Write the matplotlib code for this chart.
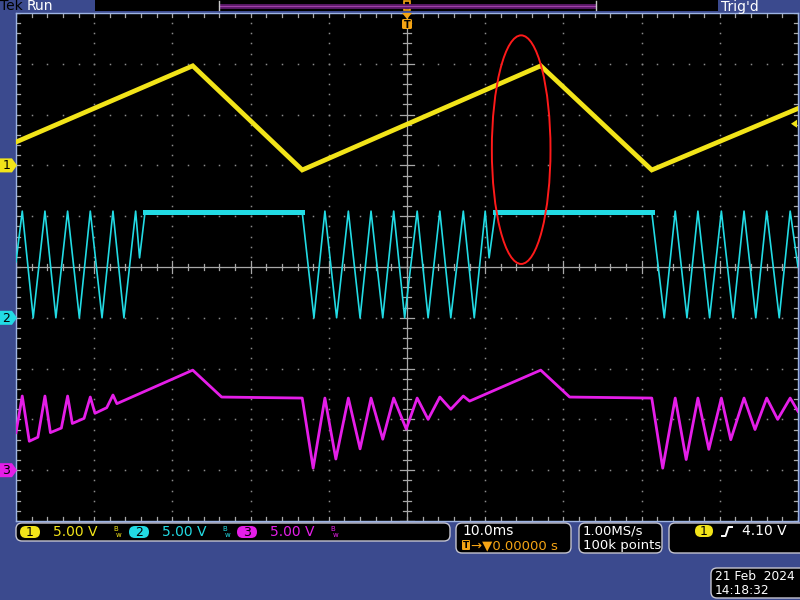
import matplotlib
matplotlib.use("Agg")
import matplotlib.pyplot as plt
import numpy as np
from matplotlib.patches import Ellipse, FancyBboxPatch, Polygon, Rectangle

# scope settings
time_per_div = 10.0          # ms/div
volts_per_div = 5.0          # V/div, all channels
ch_offsets = [2.0, -1.0, -4.0]   # ground markers, in divisions
trigger_level = 4.10         # V on ch1

# channel 1 (yellow): time in ms, volts
ch1_t = [-50.0, -27.4, -13.4, 17.1, 31.3, 50.0]
ch1_v = [2.3, 9.8, -0.45, 9.8, -0.45, 5.6]

# channel 2 (cyan)
ch2_t = [-50.0, -49.2, -47.8, -46.3, -44.9, -43.4, -41.9, -40.5, -39.0, -37.6,
         -36.2, -34.7, -34.2, -33.5, -13.4, -11.9, -10.5, -9.0, -7.5, -6.0,
         -4.6, -3.1, -1.7, -0.3, 1.3, 2.7, 4.2, 5.6, 7.2, 8.6,
         10.0, 10.5, 11.3, 31.3, 32.9, 34.3, 35.8, 37.2, 38.7, 40.2,
         41.7, 43.1, 44.6, 46.0, 47.6, 49.0, 50.0]
ch2_v = [5.5, 10.5, 0.0, 10.5, 0.0, 10.5, 0.0, 10.5, 0.0, 10.5,
         0.0, 10.5, 5.9, 10.4, 10.4, 0.0, 10.5, 0.0, 10.5, 0.0,
         10.5, 0.0, 10.5, 0.0, 10.5, 0.0, 10.5, 0.0, 10.5, 0.0,
         10.5, 5.9, 10.4, 10.4, 0.0, 10.5, 0.0, 10.5, 0.0, 10.5,
         0.0, 10.5, 0.0, 10.5, 0.0, 10.5, 5.0]
ch2_flat = [(-33.5, -13.4), (11.3, 31.3)]

# channel 3 (magenta)
ch3_t = [-50.0, -49.2, -48.3, -47.2, -46.3, -45.6, -44.2, -43.4, -42.8, -41.3,
         -40.5, -39.9, -38.4, -37.6, -37.1, -27.4, -23.7, -13.4, -12.0, -10.5,
         -9.1, -7.5, -6.0, -4.6, -3.1, -1.7, -0.1, 1.3, 2.7, 4.2,
         5.6, 7.2, 8.0, 17.1, 20.8, 31.3, 32.7, 34.3, 35.7, 37.2,
         38.6, 40.2, 41.4, 43.1, 44.5, 46.0, 47.4, 49.0, 50.0]
ch3_v = [3.7, 7.3, 2.85, 3.25, 7.3, 3.7, 4.15, 7.3, 4.6, 5.1,
         7.2, 5.6, 6.15, 7.4, 6.55, 9.85, 7.2, 7.1, 0.2, 7.1,
         1.1, 7.1, 2.1, 7.1, 3.05, 7.1, 4.05, 7.1, 5.0, 7.2,
         6.0, 7.3, 6.8, 9.85, 7.2, 7.1, 0.2, 7.1, 1.05, 7.1,
         2.05, 7.1, 3.0, 7.1, 4.0, 7.1, 5.0, 7.1, 5.8]

# marked region (ellipse), ms / div
mark_center = (14.6, 2.31)
mark_size = (7.5, 4.5)

YELLOW = "#f2e419"
CYAN = "#22dbe4"
MAGENTA = "#e51ee8"
ORANGE = "#f4a414"
BLUE_BG = "#3b4a8e"
FRAME = "#9db4e4"


def to_div(volts, offset):
    return np.asarray(volts) / volts_per_div + offset


fig = plt.figure(figsize=(8, 6), dpi=100, facecolor=BLUE_BG)

ax = fig.add_axes([16 / 800, 79 / 600, 782 / 800, 508 / 600])
ax.set_facecolor("black")
ax.set_xlim(-5 * time_per_div, 5 * time_per_div)
ax.set_ylim(-5, 5)
ax.set_xticks([])
ax.set_yticks([])
for sp in ax.spines.values():
    sp.set_color(FRAME)
    sp.set_linewidth(1.0)

# graticule dots
minor_x = np.arange(-50, 50.01, 2.0)
minor_y = np.arange(-5, 5.01, 0.2)
for k in range(-4, 5):
    if k == 0:
        continue
    ax.plot(np.full_like(minor_y, k * 10.0), minor_y, ls="none", marker="s",
            ms=1.1, mew=0, color="#8a8a8a", zorder=1)
    ax.plot(minor_x, np.full_like(minor_x, float(k)), ls="none", marker="s",
            ms=1.1, mew=0, color="#8a8a8a", zorder=1)

# centre cross with ticks
ax.axhline(0, color="#a8a8a8", lw=0.9, zorder=1)
ax.axvline(0, color="#a8a8a8", lw=0.9, zorder=1)
for x in minor_x:
    h = 0.11 if abs(x / 10 - round(x / 10)) < 1e-6 else 0.06
    ax.plot([x, x], [-h, h], color="#a8a8a8", lw=0.9, zorder=1)
    ax.plot([x, x], [5, 5 - 0.07], color="#a8a8a8", lw=0.9, zorder=1)
    ax.plot([x, x], [-5, -5 + 0.07], color="#a8a8a8", lw=0.9, zorder=1)
for y in minor_y:
    w = 0.9 if abs(y - round(y)) < 1e-6 else 0.5
    ax.plot([-w, w], [y, y], color="#a8a8a8", lw=0.9, zorder=1)
    ax.plot([-50, -50 + 0.5], [y, y], color="#a8a8a8", lw=0.9, zorder=1)
    ax.plot([50, 50 - 0.5], [y, y], color="#a8a8a8", lw=0.9, zorder=1)

# traces
ax.plot(ch1_t, to_div(ch1_v, ch_offsets[0]), color=YELLOW, lw=3.4,
        solid_joinstyle="miter", zorder=4)
ax.plot(ch2_t, to_div(ch2_v, ch_offsets[1]), color=CYAN, lw=1.2, zorder=3)
for t0, t1 in ch2_flat:
    i0, i1 = ch2_t.index(t0), ch2_t.index(t1)
    ax.plot(ch2_t[i0:i1 + 1], to_div(ch2_v[i0:i1 + 1], ch_offsets[1]),
            color=CYAN, lw=3.6, zorder=3)
ax.plot(ch3_t, to_div(ch3_v, ch_offsets[2]), color=MAGENTA, lw=2.0, zorder=3)

ax.add_patch(Ellipse(mark_center, mark_size[0], mark_size[1], fill=False,
                     ec="#ff1a1a", lw=1.4, zorder=6))

# ---- instrument UI overlay (pixel coordinates) ----
ui = fig.add_axes([0, 0, 1, 1], zorder=5)
ui.set_xlim(0, 800)
ui.set_ylim(600, 0)
ui.axis("off")
ui.patch.set_alpha(0)


def ypix(div):
    return 600 - ax.transData.transform((0, div))[1]


# top bar
ui.text(0, 6.5, "Tek", color="black", fontsize=10, va="center", ha="left")
ui.text(27, 6.5, "Run", color="white", fontsize=10, va="center", ha="left")
ui.add_patch(Rectangle((95, 0), 623, 11, fc="black", ec="none"))
ui.plot([219, 596], [5.5, 5.5], color="#5c1a6a", lw=3.5, solid_capstyle="butt")
ui.plot([219, 596], [5.5, 5.5], color="#a040a8", lw=0.8)
for bx in (219, 596):
    ui.plot([bx, bx], [1, 10], color="#c8c8c8", lw=1)
ui.text(759, 6.5, "Trig'd", color="white", fontsize=10, va="center", ha="right")

# trigger position markers
ui.add_patch(Rectangle((404, 1), 6, 9, fc="none", ec=ORANGE, lw=1.2))
ui.add_patch(Polygon([[402, 13], [412, 13], [407, 19]], closed=True, fc=ORANGE, ec="none"))
ui.add_patch(FancyBboxPatch((402, 19), 10, 10, boxstyle="round,pad=0,rounding_size=1.5",
                            fc=ORANGE, ec="none"))
ui.text(407, 24.5, "T", color="black", fontsize=7, fontweight="bold", ha="center", va="center")

# channel ground markers
ch_cols = [YELLOW, CYAN, MAGENTA]
for n, (off, col) in enumerate(zip(ch_offsets, ch_cols), start=1):
    yc = ypix(off)
    ui.add_patch(Polygon([[0, yc - 7], [12, yc - 7], [17, yc], [12, yc + 7], [0, yc + 7]],
                         closed=True, fc=col, ec="none"))
    ui.text(6.5, yc + 0.5, str(n), color="black", fontsize=9, ha="center", va="center")

# trigger level marker
yt = ypix(trigger_level / volts_per_div + ch_offsets[0])
ui.add_patch(Polygon([[791, yt], [797, yt - 4], [797, yt + 4]], closed=True, fc=YELLOW, ec="none"))


def panel(x, y, w, h):
    ui.add_patch(FancyBboxPatch((x, y), w, h, boxstyle="round,pad=0,rounding_size=6",
                                fc="black", ec="#c4c4d0", lw=1.0))


def badge(xc, yc, n, col, w=20):
    ui.add_patch(FancyBboxPatch((xc - w / 2, yc - 6), w, 12,
                                boxstyle="round,pad=0,rounding_size=6", fc=col, ec="none"))
    ui.text(xc, yc + 0.5, str(n), color="black", fontsize=9, ha="center", va="center")


# vertical settings panel
panel(16, 523, 434, 18)
for n, (x0, col) in enumerate(zip([30, 139, 247], ch_cols), start=1):
    badge(x0, 532, n, col)
    ui.text(x0 + 23, 532.5, "5.00 V", color=col, fontsize=10, ha="left", va="center")
    ui.text(x0 + 83, 532, "B", color=col, fontsize=5, ha="left", va="bottom")
    ui.text(x0 + 86, 532, "w", color=col, fontsize=5, ha="left", va="top")

# horizontal panel
panel(456, 523, 115, 30)
ui.text(462, 531, "10.0ms", color="white", fontsize=10, ha="left", va="center")
ui.add_patch(FancyBboxPatch((462, 540), 8, 10, boxstyle="round,pad=0,rounding_size=1",
                            fc=ORANGE, ec="none"))
ui.text(466, 545.5, "T", color="black", fontsize=6.5, fontweight="bold", ha="center", va="center")
ui.text(471, 545.5, "\u2192\u25bc0.00000 s", color=ORANGE, fontsize=9.5, ha="left", va="center")

# acquisition panel
panel(579, 523, 83, 30)
ui.text(583, 531, "1.00MS/s", color="white", fontsize=9.5, ha="left", va="center")
ui.text(583, 545.5, "100k points", color="white", fontsize=9.5, ha="left", va="center")

# trigger panel
panel(669, 523, 140, 30)
badge(704, 531, 1, YELLOW, w=18)
ui.plot([722, 725.5, 728.5, 732], [536, 536, 527, 527], color="white", lw=1.4)
ui.text(787, 531, "4.10 V", color="white", fontsize=10, ha="right", va="center")

# date panel
panel(711, 568, 100, 30)
ui.text(715, 576.5, "21 Feb  2024", color="white", fontsize=8.8, ha="left", va="center")
ui.text(715, 591, "14:18:32", color="white", fontsize=8.8, ha="left", va="center")

fig.savefig("out.png", dpi=100, facecolor=BLUE_BG)
